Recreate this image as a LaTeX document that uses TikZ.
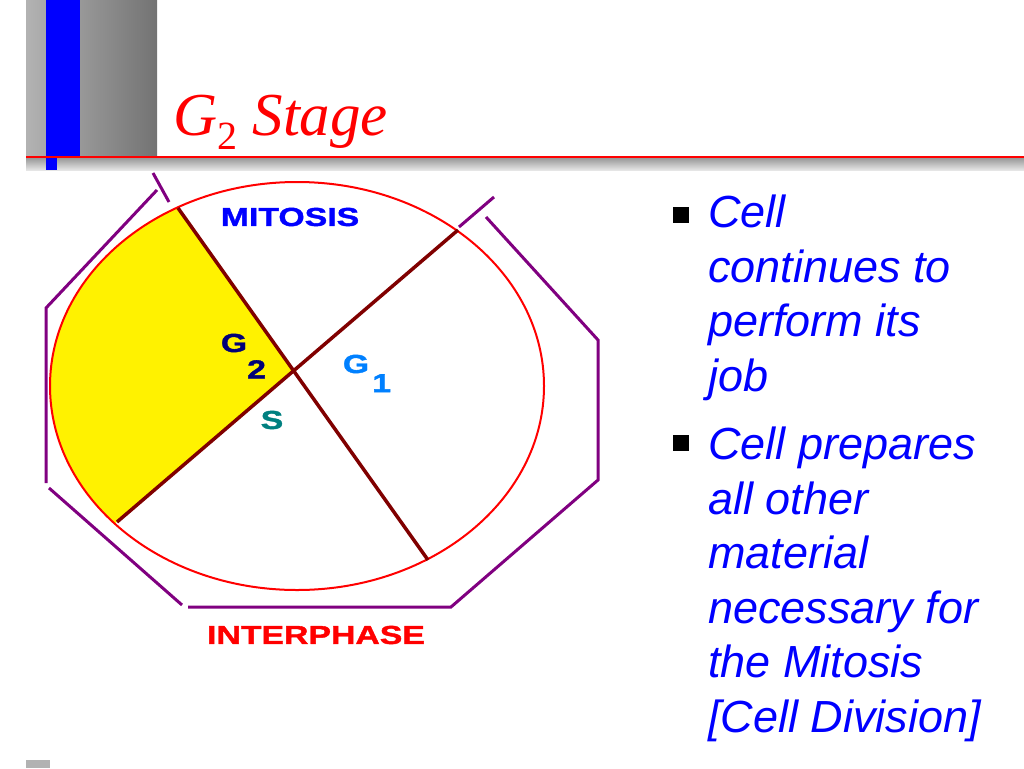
\documentclass[tikz,border=0pt]{standalone}
\usepackage{fontspec}
\setmainfont{Liberation Serif}
\setsansfont{Liberation Sans}
\newfontfamily\widefont[FakeStretch=1.3, FakeBold=1.5]{Liberation Sans Bold}
\definecolor{octa}{RGB}{128,0,128}
\definecolor{spoke}{RGB}{128,0,0}
\definecolor{navy}{RGB}{0,0,120}
\definecolor{skyblue}{RGB}{0,128,255}
\definecolor{teal2}{RGB}{0,128,128}
\tikzset{
  phase/.style={font=\widefont\fontsize{26}{26}\selectfont, inner sep=0pt},
  bullet/.style={fill=black, minimum size=16pt, inner sep=0pt},
  item/.style={anchor=north west, align=left, inner sep=0pt, font=\sffamily\itshape\fontsize{45}{54.5}\selectfont, text=blue},
  ring/.style={octa, line width=3pt},
}
\begin{document}
\begin{tikzpicture}[x=1pt,y=1pt,yscale=-1]
\useasboundingbox (0,0) rectangle (1024,768);
% slide frame
\shade[left color=gray!60, right color=gray!90!black] (26,0) rectangle (157,170);
\shade[top color=gray!80, bottom color=gray!20] (26,158) rectangle (1024,170);
\fill[blue] (46,0) rectangle (80,158);
\fill[blue] (46,158) rectangle (57,170);
\draw[red, line width=1.5pt] (26,157) -- (1024,157);
\fill[gray!60] (26,760) rectangle (50,768);
\node[anchor=base west, inner sep=0pt, text=red, font=\itshape\fontsize{61}{61}\selectfont] (title) at (173,135) {G\raisebox{-14pt}{\fontsize{40}{40}\selectfont\upshape 2} Stage};
% cycle
\coordinate (mid) at (293,370);
\begin{scope}
  \clip (297,386) ellipse [x radius=247, y radius=204];
  \fill[yellow] (mid) -- (113,116) -- (0,116) -- (0,640) -- (10,614) -- cycle;
\end{scope}
\draw[red, line width=2pt] (297,386) ellipse [x radius=247, y radius=204];
\coordinate (a1) at (178,208);
\coordinate (a2) at (428,560);
\coordinate (b1) at (458,230);
\coordinate (b2) at (117,522);
\draw[spoke, line width=3.5pt] (a1) -- (a2);
\draw[spoke, line width=3.5pt] (b1) -- (b2);
% octagon
\draw[ring] (153,173) -- (169,202);
\draw[ring] (494,197) -- (459,227);
\draw[ring] (157,190) -- (46,308) -- (46,483);
\draw[ring] (49,488) -- (182,605);
\draw[ring] (188,607) -- (451,607) -- (598,480) -- (598,340) -- (486,217);
% labels
\node[phase, text=blue] (mitosis) at (290,217) {MITOSIS};
\node[phase, text=red] (interphase) at (316,635) {INTERPHASE};
\node[phase, text=navy] (gtwo) at (234,343) {G};
\node[phase, text=navy, anchor=north west] (gtwosub) at (247,360) {2};
\node[phase, text=skyblue] (gone) at (356,364) {G};
\node[phase, text=skyblue, anchor=north west] (gonesub) at (372,374) {1};
\node[phase, text=teal2] (sphase) at (272,420) {S};
% text
\node[bullet] (b1sq) at (681,215) {};
\node[item] (t1) at (708,195) {Cell\\continues to\\perform its\\job};
\node[bullet] (b2sq) at (681,443) {};
\node[item] (t2) at (708,427) {Cell prepares\\all other\\material\\necessary for\\the Mitosis\\{[Cell Division]}};
\end{tikzpicture}
\end{document}
